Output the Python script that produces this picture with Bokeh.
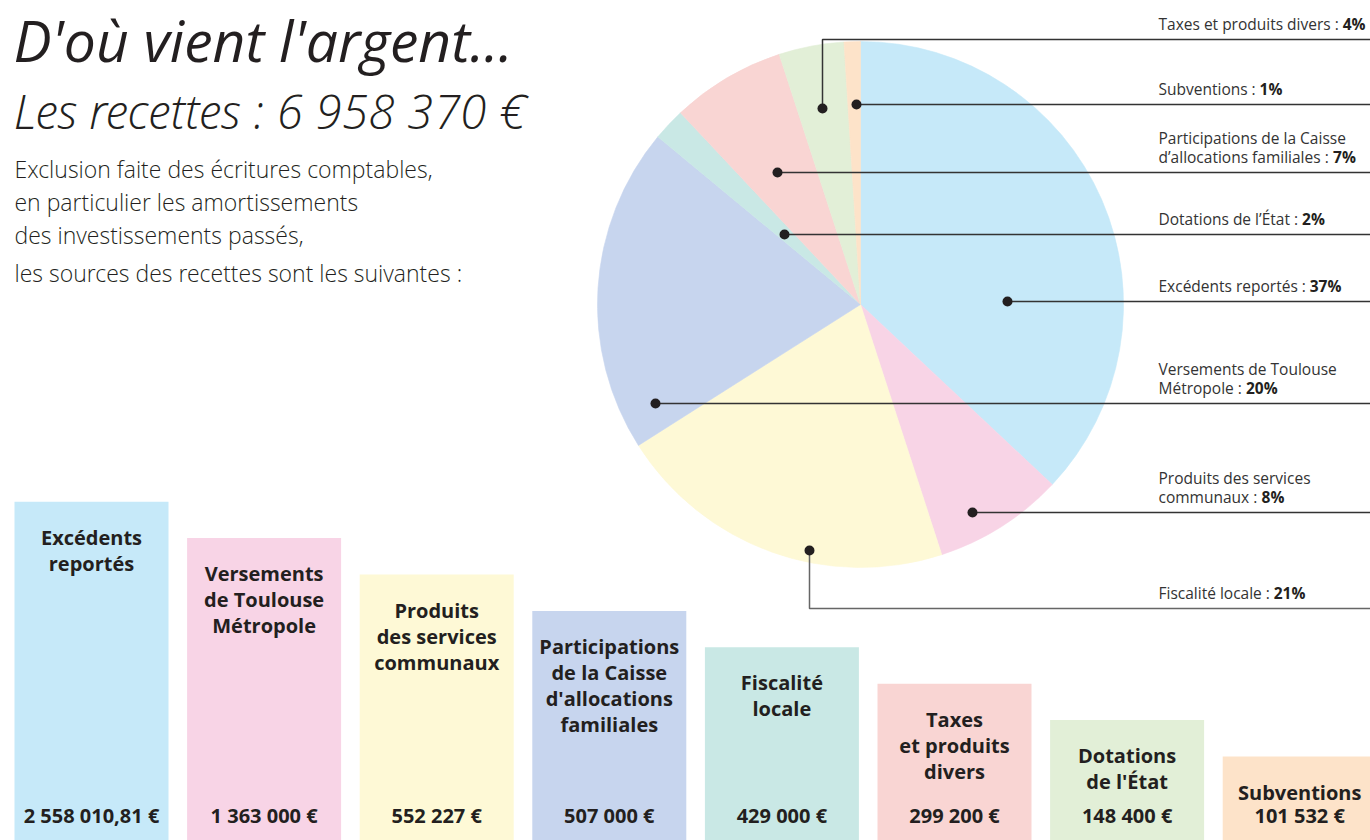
import math
from bokeh.plotting import figure
from bokeh.models import ColumnDataSource, Range1d
from bokeh.core.properties import value
from bokeh.embed import file_html
from bokeh.resources import INLINE

# ---------------- data ----------------
title = "D'où vient l'argent..."
subtitle = "Les recettes : 6 958 370 €"
intro_lines = [
    "Exclusion faite des écritures comptables,",
    "en particulier les amortissements",
    "des investissements passés,",
    "les sources des recettes sont les suivantes :",
]

bar_labels = [
    ["Excédents", "reportés"],
    ["Versements", "de Toulouse", "Métropole"],
    ["Produits", "des services", "communaux"],
    ["Participations", "de la Caisse", "d'allocations", "familiales"],
    ["Fiscalité", "locale"],
    ["Taxes", "et produits", "divers"],
    ["Dotations", "de l'État"],
    ["Subventions"],
]
bar_amount_labels = ["2 558 010,81 €", "1 363 000 €", "552 227 €", "507 000 €",
                     "429 000 €", "299 200 €", "148 400 €", "101 532 €"]
bar_amounts = [2558010.81, 1363000, 552227, 507000, 429000, 299200, 148400, 101532]
bar_rank = [8, 7, 6, 5, 4, 3, 2, 1]
bar_colors = ["#c6e9f9", "#f8d4e6", "#fef9d6", "#c7d5ee", "#c9e8e5", "#f9d5d3", "#e2efd7", "#fde3c9"]

# pie, clockwise from 12 o'clock
pie_names = ["Excédents reportés", "Produits des services communaux", "Fiscalité locale",
             "Versements de Toulouse Métropole", "Dotations de l'État",
             "Participations de la Caisse d'allocations familiales",
             "Taxes et produits divers", "Subventions"]
pie_pct = [37, 8, 21, 20, 2, 7, 4, 1]
pie_colors = ["#c6e9f9", "#f8d4e6", "#fef9d6", "#c7d5ee", "#c9e8e5", "#f9d5d3", "#e2efd7", "#fde3c9"]

# right-hand legend, top to bottom (index into pie arrays) and its wrapped text
legend_order = [6, 7, 5, 4, 0, 3, 1, 2]
legend_text = {
    0: ["Excédents reportés : "],
    1: ["Produits des services", "communaux : "],
    2: ["Fiscalité locale : "],
    3: ["Versements de Toulouse", "Métropole : "],
    4: ["Dotations de l’État : "],
    5: ["Participations de la Caisse", "d’allocations familiales : "],
    6: ["Taxes et produits divers : "],
    7: ["Subventions : "],
}

# ---------------- layout ----------------
W, H = 1370, 840
def ty(v):
    return H - v

INK = "#231f20"
FONT = "Open Sans"
LIGHT = "'Open Sans Light', 'Open Sans'"

p = figure(width=W, height=H, x_range=Range1d(0, W), y_range=Range1d(0, H),
           output_backend="svg", toolbar_location=None, min_border=0,
           x_axis_location=None, y_axis_location=None)
p.grid.visible = False
p.outline_line_color = None
p.background_fill_color = "white"
p.border_fill_color = "white"

# ---- pie ----
cx, cy, r = 860, ty(304), 263
starts, ends = [], []
cum = 0.0
tot = float(sum(pie_pct))
for v in pie_pct:
    starts.append(math.pi / 2 - 2 * math.pi * cum / tot)
    cum += v
    ends.append(math.pi / 2 - 2 * math.pi * cum / tot)
pie_src = ColumnDataSource(dict(start=starts, end=ends, color=pie_colors, name=pie_names))
p.wedge(x=cx, y=cy, radius=r, start_angle="start", end_angle="end", direction="clock",
        fill_color="color", line_color="color", line_width=0.6, source=pie_src)

# ---- leaders ----
line_y = [39, 104, 172, 234, 301, 403, 512, 608]
dots = [(822, 108), (856, 104), (777, 172), (784, 234), (1007, 301), (655, 403), (972, 512), (809, 550)]
line_cols = ["#333333"] * 7 + ["#666666"]
xs, ys = [], []
for (dx, dy), ly in zip(dots, line_y):
    xs.append([dx, dx, W])
    ys.append([ty(dy), ty(ly), ty(ly)])
p.multi_line(xs=xs, ys=ys, line_color=line_cols, line_width=1.5)
p.scatter(x=[d[0] for d in dots], y=[ty(d[1]) for d in dots], size=10,
          fill_color=INK, line_color=None)

# width estimate for Open Sans Regular (units / 2048 em)
OS_W = {' ': 532, 'a': 1139, 'b': 1255, 'c': 975, 'd': 1255, 'e': 1149, 'f': 694, 'g': 1122,
        'h': 1257, 'i': 518, 'j': 518, 'k': 1075, 'l': 518, 'm': 1905, 'n': 1257, 'o': 1237,
        'p': 1255, 'q': 1255, 'r': 836, 's': 977, 't': 723, 'u': 1257, 'v': 1026, 'w': 1593,
        'x': 1073, 'y': 1028, 'z': 977, 'é': 1149, 'A': 1296, 'C': 1292, 'D': 1493, 'E': 1124,
        'É': 1124, 'F': 1026, 'M': 1847, 'P': 1221, 'S': 1096, 'T': 1100, 'V': 1235,
        ':': 545, '’': 356, "'": 367}
def tw(s, size):
    return sum(OS_W.get(c, 1150) for c in s) / 2048.0 * size

LX = 1158
LS = 15.5
reg_x, reg_y, reg_t = [], [], []
bold_x, bold_y, bold_t = [], [], []
for k, idx in enumerate(legend_order):
    lines = legend_text[idx]
    base = line_y[k] - 16
    nl = len(lines)
    for j, t in enumerate(lines):
        yy = base - (nl - 1 - j) * 19
        reg_x.append(LX); reg_y.append(ty(yy)); reg_t.append(t)
    bold_x.append(LX + tw(lines[-1], LS))
    bold_y.append(ty(base))
    bold_t.append(f"{pie_pct[idx]}%")
p.text(x=reg_x, y=reg_y, text=reg_t, text_font=value(FONT), text_font_size=f"{LS}px",
       text_color="#333333", text_baseline="middle", text_align="left")
p.text(x=bold_x, y=bold_y, text=bold_t, text_font=value(FONT), text_font_size=f"{LS}px",
       text_font_style="bold", text_color=INK, text_baseline="middle", text_align="left")

# ---- bars ----
n = len(bar_amounts)
centers = [91 + i * 172.6 for i in range(n)]
heights = [47.6 + rk * 36.4 for rk in bar_rank]
bar_src = ColumnDataSource(dict(x=centers, top=heights, color=bar_colors, amount=bar_amounts))
p.vbar(x="x", width=154, bottom=0, top="top", fill_color="color", line_color=None, source=bar_src)

lx, lyy, lt = [], [], []
for i, lines in enumerate(bar_labels):
    top_px = H - heights[i]
    for j, t in enumerate(lines):
        lx.append(centers[i]); lyy.append(ty(top_px + 35.5 + j * 26)); lt.append(t)
p.text(x=lx, y=lyy, text=lt, text_font=value(FONT), text_font_size="20px",
       text_font_style="bold", text_color=INK, text_align="center", text_baseline="middle")
p.text(x=centers, y=[ty(815)] * n, text=bar_amount_labels, text_font=value(FONT),
       text_font_size="20px", text_font_style="bold", text_color=INK,
       text_align="center", text_baseline="middle")

# ---- titles ----
p.text(x=[13], y=[ty(39)], text=[title], text_font=value(FONT), text_font_size="57px",
       text_font_style="italic", text_color=INK, text_baseline="middle")
p.text(x=[13], y=[ty(110)], text=[subtitle], text_font=value(LIGHT), text_font_size="48px",
       text_font_style="italic", text_color=INK, text_baseline="middle")
intro_y = [168, 201, 234, 272]
p.text(x=[14] * len(intro_lines), y=[ty(v) for v in intro_y], text=intro_lines,
       text_font=value(LIGHT), text_font_size="23px", text_color=INK,
       text_baseline="middle")

open("out.html", "w").write(file_html(p, INLINE))
